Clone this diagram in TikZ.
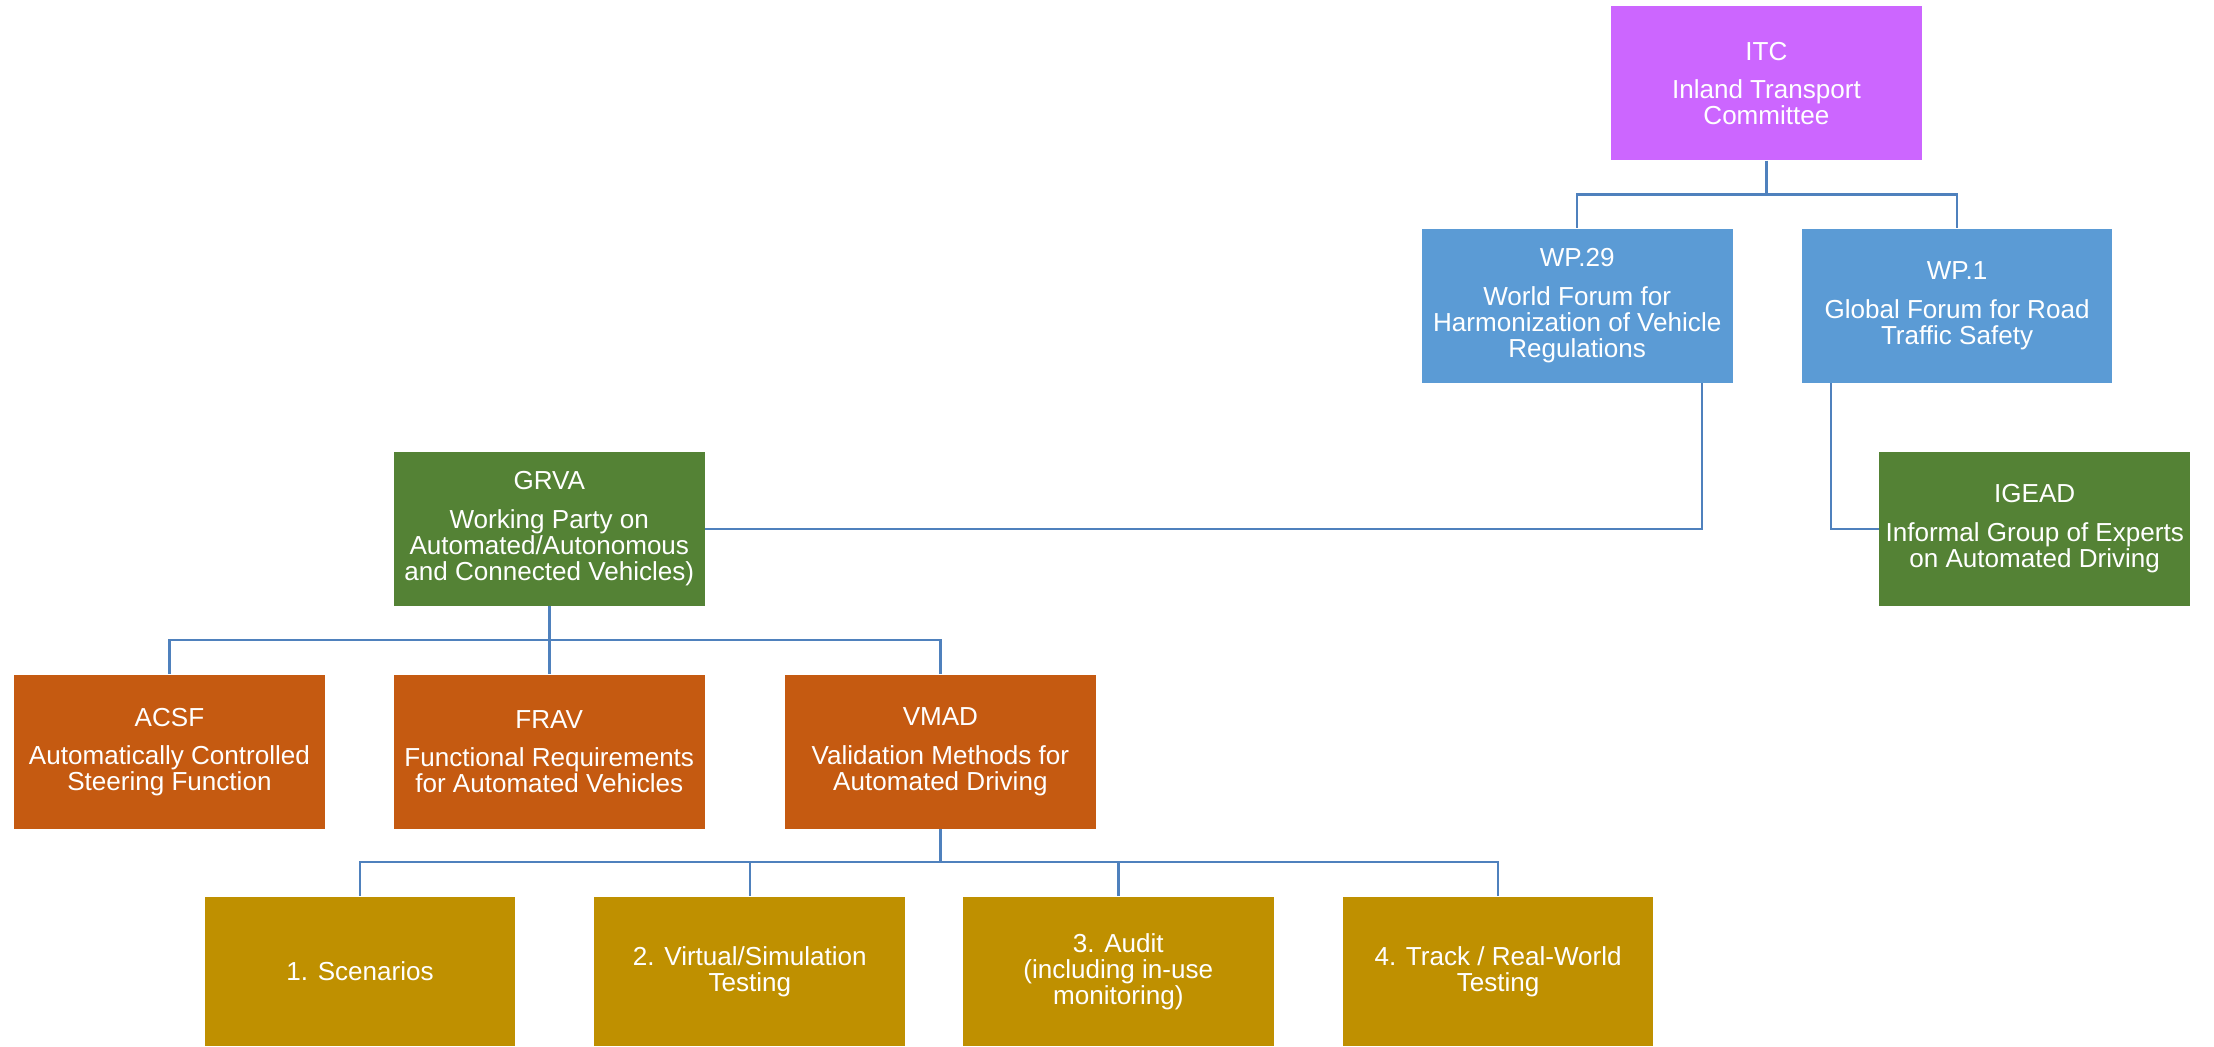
\documentclass[tikz,border=0pt]{standalone}
\usepackage{fontspec}
\setmainfont{Liberation Sans}
\definecolor{itcpurple}{HTML}{CC66FF}
\definecolor{wpblue}{HTML}{5B9BD5}
\definecolor{grgreen}{HTML}{548235}
\definecolor{grorange}{HTML}{C55A11}
\definecolor{vmadgold}{HTML}{BF9000}
\definecolor{linkblue}{HTML}{4F81BD}

\begin{document}
\begin{tikzpicture}[x=0.2mm, y=-0.2mm,
box/.style={minimum width=4.4cm, minimum height=2.18cm, inner sep=1pt, text=white, align=center, font=\fontsize{10.5}{10.5}\selectfont},
leaf/.style={box, minimum height=2.12cm, fill=vmadgold},
link/.style={draw=linkblue, line width=1pt}]
\useasboundingbox (0,0) rectangle (1568,741);
% committee and forums
\node[box, fill=itcpurple] (ITC) at (1251,59) {ITC\\[5pt]Inland Transport\\Committee};
\node[box, fill=wpblue] (WP29) at (1117,216.5) {WP.29\\[5pt]World Forum for\\Harmonization of Vehicle\\Regulations};
\node[box, fill=wpblue] (WP1) at (1386,216.5) {WP.1\\[5pt]Global Forum for Road\\Traffic Safety};
\node[box, fill=grgreen] (GRVA) at (389,374.5) {GRVA\\[5pt]Working Party on\\Automated/Autonomous\\and Connected Vehicles)};
\node[box, fill=grgreen] (IGEAD) at (1441,374.5) {IGEAD\\[5pt]Informal Group of Experts\\on Automated Driving};
% GRVA groups
\node[box, fill=grorange] (ACSF) at (120,532.5) {ACSF\\[5pt]Automatically Controlled\\Steering Function};
\node[box, fill=grorange] (FRAV) at (389,532.5) {FRAV\\[5pt]Functional Requirements\\for Automated Vehicles};
\node[box, fill=grorange] (VMAD) at (666,532.5) {VMAD\\[5pt]Validation Methods for\\Automated Driving};
% VMAD pillars
\node[leaf] (scen) at (255,688) {1. Scenarios};
\node[leaf] (virt) at (531,688) {2. Virtual/Simulation\\Testing};
\node[leaf] (audit) at (792,688) {3. Audit\\(including in-use\\monitoring)};
\node[leaf] (track) at (1061,688) {4. Track / Real-World\\Testing};

\draw[link] (ITC.south) -- ++(0,24) -| (WP29.north);
\draw[link] (ITC.south) -- ++(0,24) -| (WP1.north);
\draw[link] ([xshift=-4.4mm]WP29.south east) |- (GRVA.east);
\draw[link] ([xshift=4.2mm]WP1.south west) |- (IGEAD.west);
\draw[link] (GRVA.south) -- ++(0,24) -| (ACSF.north);
\draw[link] (GRVA.south) -- (FRAV.north);
\draw[link] (GRVA.south) -- ++(0,24) -| (VMAD.north);
\foreach \leafname in {scen,virt,audit,track}
  \draw[link] (VMAD.south) -- ++(0,23) -| (\leafname.north);
\end{tikzpicture}
\end{document}
